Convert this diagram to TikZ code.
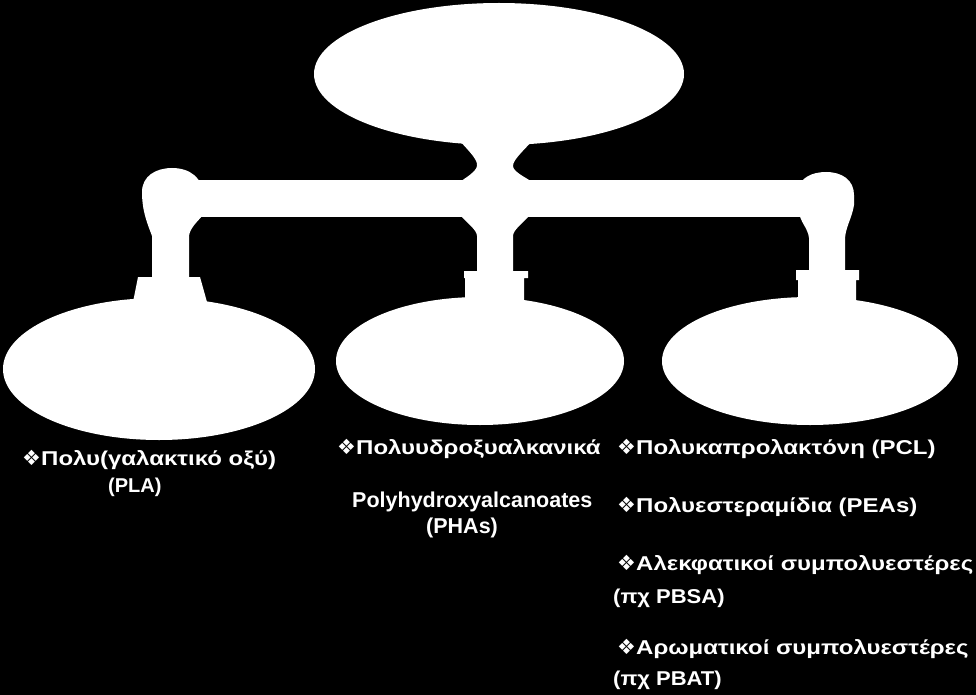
\documentclass[tikz,border=0pt]{standalone}
\usepackage{fontspec}
\setmainfont{Liberation Sans}
\newfontfamily\symfont{DejaVu Sans}
\newfontfamily\grkwide[FakeStretch=1.2]{Liberation Sans}
\newfontfamily\latwide[FakeStretch=1.1]{Liberation Sans}
\usetikzlibrary{shapes.geometric}
\newcommand{\bul}{\makebox[19pt][l]{\symfont\fontsize{21}{21}\selectfont ❖}}
\tikzset{
  blob/.style={ellipse, fill=white, draw=none, inner sep=0pt},
  txt/.style={text=white, font=\grkwide\bfseries\fontsize{20}{24}\selectfont, inner sep=0pt, anchor=base west},
  txtlat/.style={txt, font=\latwide\bfseries\fontsize{20}{24}\selectfont},
  txtplain/.style={txt, font=\bfseries\fontsize{20}{24}\selectfont},
  txtsmall/.style={txt, font=\bfseries\fontsize{21.5}{24}\selectfont},
  conn/.style={fill=white, draw=none}
}
\begin{document}
\begin{tikzpicture}[x=1pt,y=-1pt]
\fill[black] (0,0) rectangle (976,695);
\useasboundingbox (0,0) rectangle (976,695);
% ellipses
\node[blob, minimum width=370pt, minimum height=142pt] (top) at (499,74) {};
\node[blob, minimum width=312pt, minimum height=142pt] (left) at (159,369) {};
\node[blob, minimum width=288pt, minimum height=128pt] (mid) at (480,361) {};
\node[blob, minimum width=296pt, minimum height=128pt] (right) at (810,361) {};
% horizontal bar
\fill[conn] (172,180) rectangle (826,217);
% neck top ellipse -> bar
\fill[conn] (457,138) .. controls (470,152) and (478,160) .. (477,166)
  .. controls (476,172) and (465,178) .. (460,182) -- (532,182)
  .. controls (527,178) and (513,172) .. (513,166)
  .. controls (513,160) and (522,152) .. (535,138) -- cycle;
% middle stem
\fill[conn] (460,215) .. controls (468,224) and (477,230) .. (477,236) -- (477,271)
  -- (464,271) -- (464,278) -- (465,278) -- (465,302) -- (524,302) -- (524,278)
  -- (528,278) -- (528,271) -- (513,271) -- (513,236)
  .. controls (513,230) and (522,224) .. (530,215) -- cycle;
% left stem
\fill[conn] (152,236) .. controls (148,225) and (142,212) .. (142,192)
  .. controls (142,176) and (156,168) .. (172,168)
  .. controls (190,168) and (203,178) .. (203,195) -- (203,215)
  .. controls (197,222) and (190,228) .. (189,236) -- (189,277) -- (200,277)
  -- (207,302) -- (133,302) -- (138,277) -- (152,277) -- cycle;
% right stem
\fill[conn] (809,238) .. controls (808,228) and (800,222) .. (799,212) -- (799,190)
  .. controls (799,178) and (812,172) .. (826,172)
  .. controls (842,172) and (854,180) .. (854,195) -- (854,205)
  .. controls (852,218) and (846,226) .. (845,238) -- (845,270) -- (859,270)
  -- (859,280) -- (856,280) -- (856,302) -- (798,302) -- (798,280) -- (796,280)
  -- (796,270) -- (809,270) -- cycle;
% texts
\node[txt] (t1) at (22,465) {\bul Πολυ(γαλακτικό οξύ)};
\node[txtplain] (t2) at (108,492) {(PLA)};
\node[txt] (t3) at (337,454) {\bul Πολυυδροξυαλκανικά};
\node[txtsmall] (t4) at (352,507) {Polyhydroxyalcanoates};
\node[txtsmall] (t5) at (426,533) {(PHAs)};
\node[txt] (t6) at (617,454) {\bul Πολυκαπρολακτόνη (PCL)};
\node[txt] (t7) at (617,512) {\bul Πολυεστεραμίδια (PEAs)};
\node[txt] (t8) at (617,570) {\bul Αλεκφατικοί συμπολυεστέρες};
\node[txtlat] (t9) at (613,603) {(πχ PBSA)};
\node[txt] (t10) at (617,654) {\bul Αρωματικοί συμπολυεστέρες};
\node[txtlat] (t11) at (613,685) {(πχ PBAT)};
\end{tikzpicture}
\end{document}
